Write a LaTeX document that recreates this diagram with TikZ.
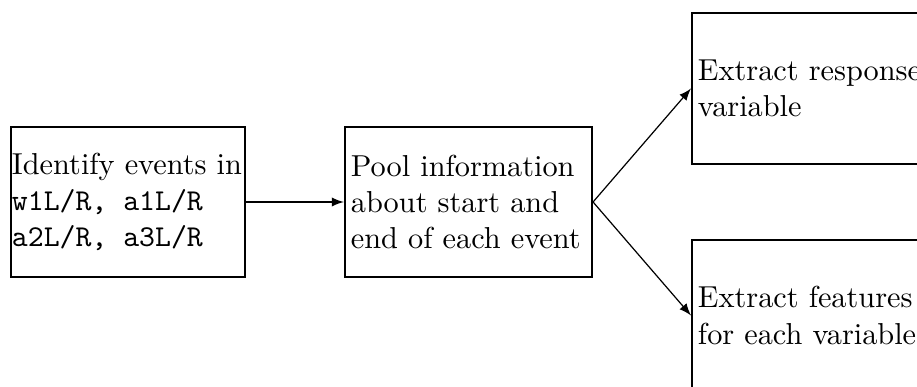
\documentclass[tikz,border=0pt]{standalone}
\usepackage{tikz}

\begin{document}
\begin{tikzpicture}[>=latex, x=0.33pt, y=-0.33pt]

    \tikzstyle{stage}=[draw, semithick, align=flush left, inner xsep=2pt, text width=77.6pt, minimum height=49.6pt]

    \clip (0,0) rectangle (917,387);

    \node[stage, inner xsep=0.2pt, text width=76.6pt] (ident) at (128,202)
        {Identify events in\\\texttt{w1L/R, a1L/R}\\\texttt{a2L/R, a3L/R}};
    \node[stage] (pool) at (468.5,202)
        {Pool information about start and end of each event};
    \node[stage, anchor=west] (resp) at (691,88.5)
        {Extract response variable};
    \node[stage, anchor=west] (feat) at (691,315.5)
        {Extract features for each variable};

    \path[->] (ident) edge (pool)
        (pool.east) edge (resp.west)
                    edge (feat.west);
\end{tikzpicture}
\end{document}
